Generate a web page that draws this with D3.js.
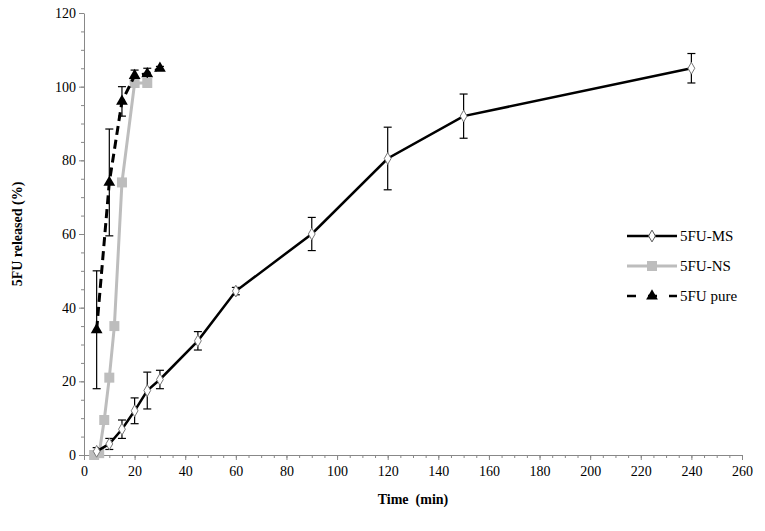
<!DOCTYPE html>
<html><head><meta charset="utf-8">
<script src="https://cdn.jsdelivr.net/npm/d3@7"></script>
<style>body{margin:0;background:#fff}svg text{font-family:"Liberation Serif","Times New Roman",serif !important}</style>
</head><body><div id="chart"></div>
<script>
const msTime = [5, 10, 15, 20, 25, 30, 45, 60, 90, 120, 150, 240];
const msVal  = [1, 3, 7, 12, 17.5, 20.5, 31, 44.5, 60, 80.5, 92, 105];
const msErr  = [1, 1.5, 2.5, 3.5, 5, 2.5, 2.5, 1, 4.5, 8.5, 6, 4];
const nsTime = [4, 6, 8, 10, 12, 15, 20, 25];
const nsVal  = [0, 0.5, 9.5, 21, 35, 74, 101, 101];
const pureTime = [5, 10, 15, 20, 25, 30];
const pureVal  = [34, 74, 96, 103, 103.5, 105];
const pureErr  = [16, 14.5, 4, 1.5, 1.5, 0.5];
const xTicks = d3.range(0, 261, 20);
const yTicks = d3.range(0, 121, 20);

const FONT = "Liberation Serif, Times New Roman, serif";
const W = 765, H = 531, m = {l: 84, r: 23, t: 13, b: 76};
const svg = d3.select("#chart").append("svg").attr("width", W).attr("height", H)
  .attr("font-family", FONT);
const x = d3.scaleLinear().domain([0, 260]).range([m.l, W - m.r]);
const y = d3.scaleLinear().domain([0, 120]).range([H - m.b, m.t]);

svg.append("g").attr("transform", `translate(0,${H - m.b})`)
  .call(d3.axisBottom(x).tickValues(xTicks).tickSize(5).tickSizeOuter(0))
  .attr("font-family", FONT)
  .call(g => g.selectAll("text").attr("font-size", 14).attr("dy", "0.9em"));
svg.append("g").attr("transform", `translate(0,${H - m.b})`)
  .call(d3.axisBottom(x).tickValues(d3.range(0, 261, 5)).tickSize(3).tickFormat("").tickSizeOuter(0))
  .call(g => g.select(".domain").remove());
svg.append("g").attr("transform", `translate(${m.l},0)`)
  .call(d3.axisLeft(y).tickValues(yTicks).tickSize(5).tickSizeOuter(0))
  .attr("font-family", FONT)
  .call(g => g.selectAll("text").attr("font-size", 14));
svg.append("g").attr("transform", `translate(${m.l},0)`)
  .call(d3.axisLeft(y).tickValues(d3.range(0, 121, 5)).tickSize(3).tickFormat("").tickSizeOuter(0))
  .call(g => g.select(".domain").remove());
svg.selectAll(".domain, .tick line").attr("stroke", "#888");

svg.append("text").attr("x", x(130)).attr("y", H - 27).attr("text-anchor", "middle")
  .attr("font-size", 14).attr("font-weight", "bold").attr("xml:space", "preserve").text("Time  (min)");
svg.append("text").attr("transform", `translate(22,${y(60)}) rotate(-90)`).attr("text-anchor", "middle")
  .attr("font-size", 14).attr("font-weight", "bold").text("5FU released (%)");

const line = d3.line().x(d => x(d[0])).y(d => y(d[1]));
function errBars(t, v, e) {
  t.forEach((ti, i) => {
    const g = svg.append("g").attr("stroke", "#000").attr("stroke-width", 1.2);
    g.append("line").attr("x1", x(ti)).attr("x2", x(ti)).attr("y1", y(v[i] - e[i])).attr("y2", y(v[i] + e[i]));
    [v[i] - e[i], v[i] + e[i]].forEach(yy => g.append("line")
      .attr("x1", x(ti) - 4).attr("x2", x(ti) + 4).attr("y1", y(yy)).attr("y2", y(yy)));
  });
}
errBars(msTime, msVal, msErr);
errBars(pureTime, pureVal, pureErr);

svg.append("path").datum(nsTime.map((t, i) => [t, nsVal[i]])).attr("d", line)
  .attr("fill", "none").attr("stroke", "#bdbdbd").attr("stroke-width", 3);
svg.selectAll(".ns").data(nsTime.map((t, i) => [t, nsVal[i]])).enter().append("rect")
  .attr("x", d => x(d[0]) - 5).attr("y", d => y(d[1]) - 5).attr("width", 10).attr("height", 10).attr("fill", "#bdbdbd");

svg.append("path").datum(msTime.map((t, i) => [t, msVal[i]])).attr("d", line)
  .attr("fill", "none").attr("stroke", "#000").attr("stroke-width", 2.5);
const diamond = d3.symbol().type(d3.symbolDiamond).size(40);
svg.selectAll(".ms").data(msTime.map((t, i) => [t, msVal[i]])).enter().append("path")
  .attr("d", diamond).attr("transform", d => `translate(${x(d[0])},${y(d[1])})`)
  .attr("fill", "#fff").attr("stroke", "#777").attr("stroke-width", 1);

svg.append("path").datum(pureTime.map((t, i) => [t, pureVal[i]])).attr("d", line)
  .attr("fill", "none").attr("stroke", "#000").attr("stroke-width", 3).attr("stroke-dasharray", "9,5");
const tri = d3.symbol().type(d3.symbolTriangle).size(60);
svg.selectAll(".pure").data(pureTime.map((t, i) => [t, pureVal[i]])).enter().append("path")
  .attr("d", tri).attr("transform", d => `translate(${x(d[0])},${y(d[1])})`).attr("fill", "#000");

// legend
const lg = svg.append("g").attr("transform", "translate(627,236)");
const items = ["5FU-MS", "5FU-NS", "5FU pure"];
items.forEach((name, i) => {
  const g = lg.append("g").attr("transform", `translate(0,${i * 30})`);
  if (i === 0) {
    g.append("line").attr("x1", 0).attr("x2", 50).attr("stroke", "#000").attr("stroke-width", 2.5);
    g.append("path").attr("d", diamond).attr("transform", "translate(25,0)").attr("fill", "#fff").attr("stroke", "#555");
  } else if (i === 1) {
    g.append("line").attr("x1", 0).attr("x2", 50).attr("stroke", "#bdbdbd").attr("stroke-width", 3);
    g.append("rect").attr("x", 20).attr("y", -5).attr("width", 10).attr("height", 10).attr("fill", "#bdbdbd");
  } else {
    g.append("line").attr("x1", 0).attr("x2", 50).attr("stroke", "#000").attr("stroke-width", 2.5).attr("stroke-dasharray", "9,12");
    g.append("path").attr("d", tri).attr("transform", "translate(25,0)").attr("fill", "#000");
  }
  g.append("text").attr("x", 53).attr("y", 5).attr("font-size", 15).text(name);
});
</script></body></html>
